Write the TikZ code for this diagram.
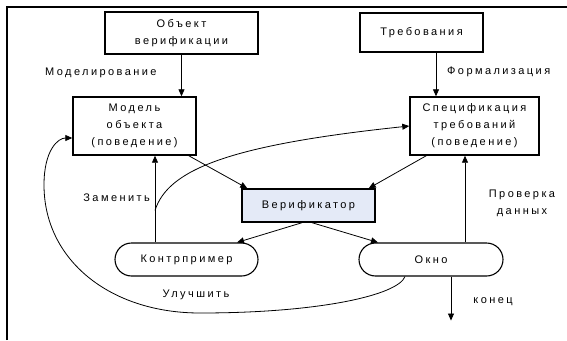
\documentclass[tikz,border=0pt]{standalone}
\usepackage{fontspec}
\setmainfont{Liberation Sans}[LetterSpace=22]
\usetikzlibrary{arrows.meta,shapes.misc,calc}
\begin{document}
\begin{tikzpicture}[x=1pt,y=-1pt,
  font=\fontsize{11}{17}\selectfont,
  box/.style={draw, line width=1.4pt, align=center, inner sep=0pt},
  term/.style={draw, line width=1.1pt, rounded rectangle, align=center, inner sep=0pt, minimum height=33pt},
  arr/.style={-{Triangle[length=7pt,width=6pt]}, line width=0.8pt},
  lbl/.style={align=center, inner sep=0pt}]
\useasboundingbox (0,0) rectangle (567,340);
\draw[line width=1.5pt] (7,340) -- (7,7) -- (567,7);

\node[box, minimum width=153pt, minimum height=42pt] (obj) at (181.5,33) {Объект\\верификации};
\node[box, minimum width=123pt, minimum height=39pt] (req) at (421.5,32.5) {Требования};
\node[box, minimum width=123pt, minimum height=58pt] (model) at (134.5,126) {Модель\\объекта\\(поведение)};
\node[box, minimum width=129pt, minimum height=58pt] (spec) at (474.5,126) {Спецификация\\требований\\(поведение)};
\node[box, fill={rgb,255:red,228;green,234;blue,247}, minimum width=133pt, minimum height=33pt] (ver) at (308.5,205.5) {Верификатор};
\node[term, minimum width=143pt] (cex) at (186.5,259.5) {Контрпример};
\node[term, minimum width=144pt] (win) at (431,259.5) {Окно};

\node[lbl, anchor=west] (lmod) at (45,73) {Моделирование};
\node[lbl, anchor=west] (lform) at (447,72) {Формализация};
\node[lbl, anchor=east] (lrep) at (150,198) {Заменить};
\node[lbl] (lchk) at (522,203) {Проверка\\данных};
\node[lbl] (lend) at (493,302) {конец};
\node[lbl] (limp) at (196,295) {Улучшить};

\draw[arr] (obj.south) -- (obj.south |- model.north);
\coordinate (rq) at ([xshift=14.5pt]req.south);
\draw[arr] (rq) -- (rq |- spec.north);
\draw[arr] ([xshift=-8pt]model.south east) -- ([xshift=6pt]ver.north west);
\draw[arr] ([xshift=17pt]spec.south west) -- ([xshift=-7pt]ver.north east);
\draw[arr] ([xshift=-6.5pt]ver.south) -- ([xshift=50.5pt]cex.north);
\draw[arr] ([xshift=3.5pt]ver.south) -- ([xshift=-53pt]win.north);

\coordinate (cx) at ([xshift=-31.5pt]cex.north);
\draw[arr] (cx) -- (cx |- model.south);
\coordinate (cs) at ([yshift=32pt]cx);
\draw[arr] (cs) .. controls +(13,-41) and +(-180,19) .. (spec.west);

\coordinate (wx) at ([xshift=34pt]win.north);
\draw[arr] (wx) -- (wx |- spec.south);
\coordinate (we) at ([xshift=20pt]win.south);
\coordinate (endpt) at ([yshift=-44pt]we);
\draw[arr] (we) -- (endpt);

\coordinate (ws) at ([xshift=-26pt]win.south);
\draw[arr] (ws) .. controls (398,295) and (320,313) .. (200,313)
  .. controls (110,313) and (44,260) .. (44,185)
  .. controls (44,150) and (58,138) .. ([yshift=-12pt]model.west);
\end{tikzpicture}
\end{document}
